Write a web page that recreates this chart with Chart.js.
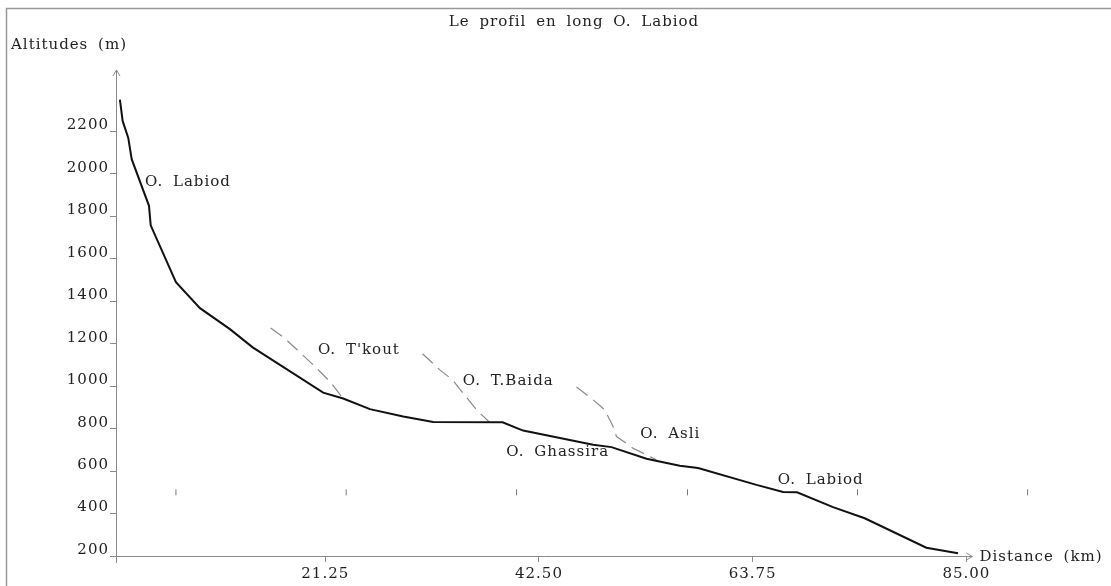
<!DOCTYPE html>
<html>
<head>
<meta charset="utf-8">
<script src="https://cdn.jsdelivr.net/npm/chart.js@4/dist/chart.umd.min.js"></script>
<style>
  html, body { margin: 0; padding: 0; background: #fff; }
  #wrap { width: 1111px; height: 586px; position: relative; }
</style>
</head>
<body>
<div id="wrap"><canvas id="profil"></canvas></div>
<script>
// profil principal O. Labiod (km, m)
const labiodKm = [0.83, 1.10, 1.66, 2.0, 3.72, 3.89, 6.40, 8.79, 11.77, 14.03, 21.04, 23.03, 25.69, 29.0, 31.98, 38.88, 40.92, 47.88, 49.71, 53.19, 56.5, 58.32, 64.13, 66.77, 68.16, 71.74, 74.89, 81.02, 84.17];
const labiodAlt = [2350, 2250, 2170, 2070, 1850, 1758, 1490, 1368, 1269, 1183, 970, 942, 892, 857, 831, 830, 791, 724, 713, 658, 625, 615, 535, 502, 500, 430, 378, 239, 213];

// affluents (pointilles)
const tkoutKm = [15.82, 17.07, 20.05, 21.71, 23.03];
const tkoutAlt = [1274, 1232, 1101, 1022, 942];
const baidaKm = [30.92, 32.64, 33.91, 34.96, 36.29, 37.61];
const baidaAlt = [1153, 1077, 1030, 967, 889, 829];
const asliKm = [46.23, 47.88, 49.04, 49.87, 50.21, 51.86, 54.18];
const asliAlt = [996, 936, 889, 810, 763, 708, 653];

// petits reperes
const repereKm = [6.40, 23.33, 40.27, 57.27, 74.17, 91.09];
const repereAlt = [500, 500, 500, 500, 500, 500];

// axes
const xTicks = [21.25, 42.50, 63.75, 85.00];
const yTicks = [200, 400, 600, 800, 1000, 1200, 1400, 1600, 1800, 2000, 2200];

// noms des oueds
const nomOued = ["O. Labiod", "O. T'kout", "O. T.Baida", "O. Ghassira", "O. Asli", "O. Labiod"];
const nomKm = [3.32, 20.52, 34.93, 39.25, 52.57, 66.24];
const nomAlt = [1964, 1172, 1025, 688, 773, 558];

const police = "DejaVu Serif";
const gris = "#8a8a8a";
const texte = "#222";

const toPoints = (xs, ys) => xs.map((x, i) => ({ x: x, y: ys[i] }));

const decor = {
  id: "decor",
  beforeDraw: (chart) => {
    chart.ctx.letterSpacing = "1px";
  },
  afterDraw: (chart) => {
    const ctx = chart.ctx;
    const xs = chart.scales.x;
    const ys = chart.scales.y;
    const x0 = xs.left;
    const y0 = ys.getPixelForValue(200);
    const yTop = chart.chartArea.top;
    const xEnd = xs.getPixelForValue(85.6);
    ctx.save();
    ctx.letterSpacing = "1px";
    ctx.wordSpacing = "4px";

    // cadre
    ctx.strokeStyle = "#999";
    ctx.lineWidth = 1.5;
    ctx.strokeRect(6.5, 8.5, 1120, 600);

    // axes avec fleches
    ctx.strokeStyle = gris;
    ctx.lineWidth = 1;
    ctx.beginPath();
    ctx.moveTo(x0 + 0.5, y0 + 7);
    ctx.lineTo(x0 + 0.5, yTop);
    ctx.moveTo(x0 - 3, yTop + 6);
    ctx.lineTo(x0 + 0.5, yTop);
    ctx.lineTo(x0 + 4, yTop + 6);
    ctx.moveTo(x0, y0 + 0.5);
    ctx.lineTo(xEnd, y0 + 0.5);
    ctx.moveTo(xEnd - 6, y0 - 3);
    ctx.lineTo(xEnd, y0 + 0.5);
    ctx.lineTo(xEnd - 6, y0 + 4);
    ctx.stroke();

    ctx.fillStyle = texte;
    ctx.font = "15px '" + police + "'";
    ctx.textBaseline = "middle";
    ctx.textAlign = "center";
    ctx.fillText("Le profil en long O. Labiod", 574, 22);
    ctx.textAlign = "left";
    ctx.fillText("Altitudes (m)", 11, 45);
    ctx.fillText("Distance (km)", xEnd + 7, y0 + 1);

    nomOued.forEach((nom, i) => {
      ctx.fillText(nom, xs.getPixelForValue(nomKm[i]), ys.getPixelForValue(nomAlt[i]));
    });
    ctx.restore();
  },
};

new Chart(document.getElementById("profil"), {
  type: "line",
  data: {
    datasets: [
      {
        label: "O. Labiod",
        data: toPoints(labiodKm, labiodAlt),
        borderColor: "#111",
        borderWidth: 2,
        pointRadius: 0,
        tension: 0,
      },
      {
        label: "O. T'kout",
        data: toPoints(tkoutKm, tkoutAlt),
        borderColor: gris,
        borderWidth: 1.2,
        borderDash: [14, 7],
        pointRadius: 0,
      },
      {
        label: "O. T.Baida",
        data: toPoints(baidaKm, baidaAlt),
        borderColor: gris,
        borderWidth: 1.2,
        borderDash: [14, 7],
        pointRadius: 0,
      },
      {
        label: "O. Asli",
        data: toPoints(asliKm, asliAlt),
        borderColor: gris,
        borderWidth: 1.2,
        borderDash: [14, 7],
        pointRadius: 0,
      },
      {
        label: "reperes",
        type: "scatter",
        data: toPoints(repereKm, repereAlt),
        pointStyle: "line",
        rotation: 90,
        radius: 3,
        borderColor: "#777",
        borderWidth: 1,
        showLine: false,
      },
    ],
  },
  options: {
    responsive: true,
    maintainAspectRatio: false,
    animation: false,
    layout: { padding: { top: 70, right: 34, left: 0, bottom: 0 } },
    plugins: {
      legend: { display: false },
      tooltip: { enabled: false },
    },
    scales: {
      x: {
        type: "linear",
        min: 0.44,
        max: 96,
        afterBuildTicks: (scale) => {
          scale.ticks = xTicks.map((v) => ({ value: v }));
        },
        afterFit: (scale) => {
          scale.height = 30;
        },
        border: { display: false },
        grid: { drawOnChartArea: false, tickLength: 6, color: gris },
        ticks: {
          color: texte,
          padding: 3,
          maxRotation: 0,
          font: { family: police, size: 15 },
          callback: (v) => Number(v).toFixed(2),
        },
      },
      y: {
        type: "linear",
        min: 200,
        max: 2490,
        afterBuildTicks: (scale) => {
          scale.ticks = yTicks.map((v) => ({ value: v }));
        },
        afterFit: (scale) => {
          scale.width = 116;
        },
        border: { display: false },
        grid: { drawOnChartArea: false, tickLength: 6, color: gris },
        ticks: {
          color: texte,
          padding: 1,
          labelOffset: -6,
          font: { family: police, size: 15 },
          callback: (v) => String(v),
        },
      },
    },
  },
  plugins: [decor],
});
</script>
</body>
</html>
